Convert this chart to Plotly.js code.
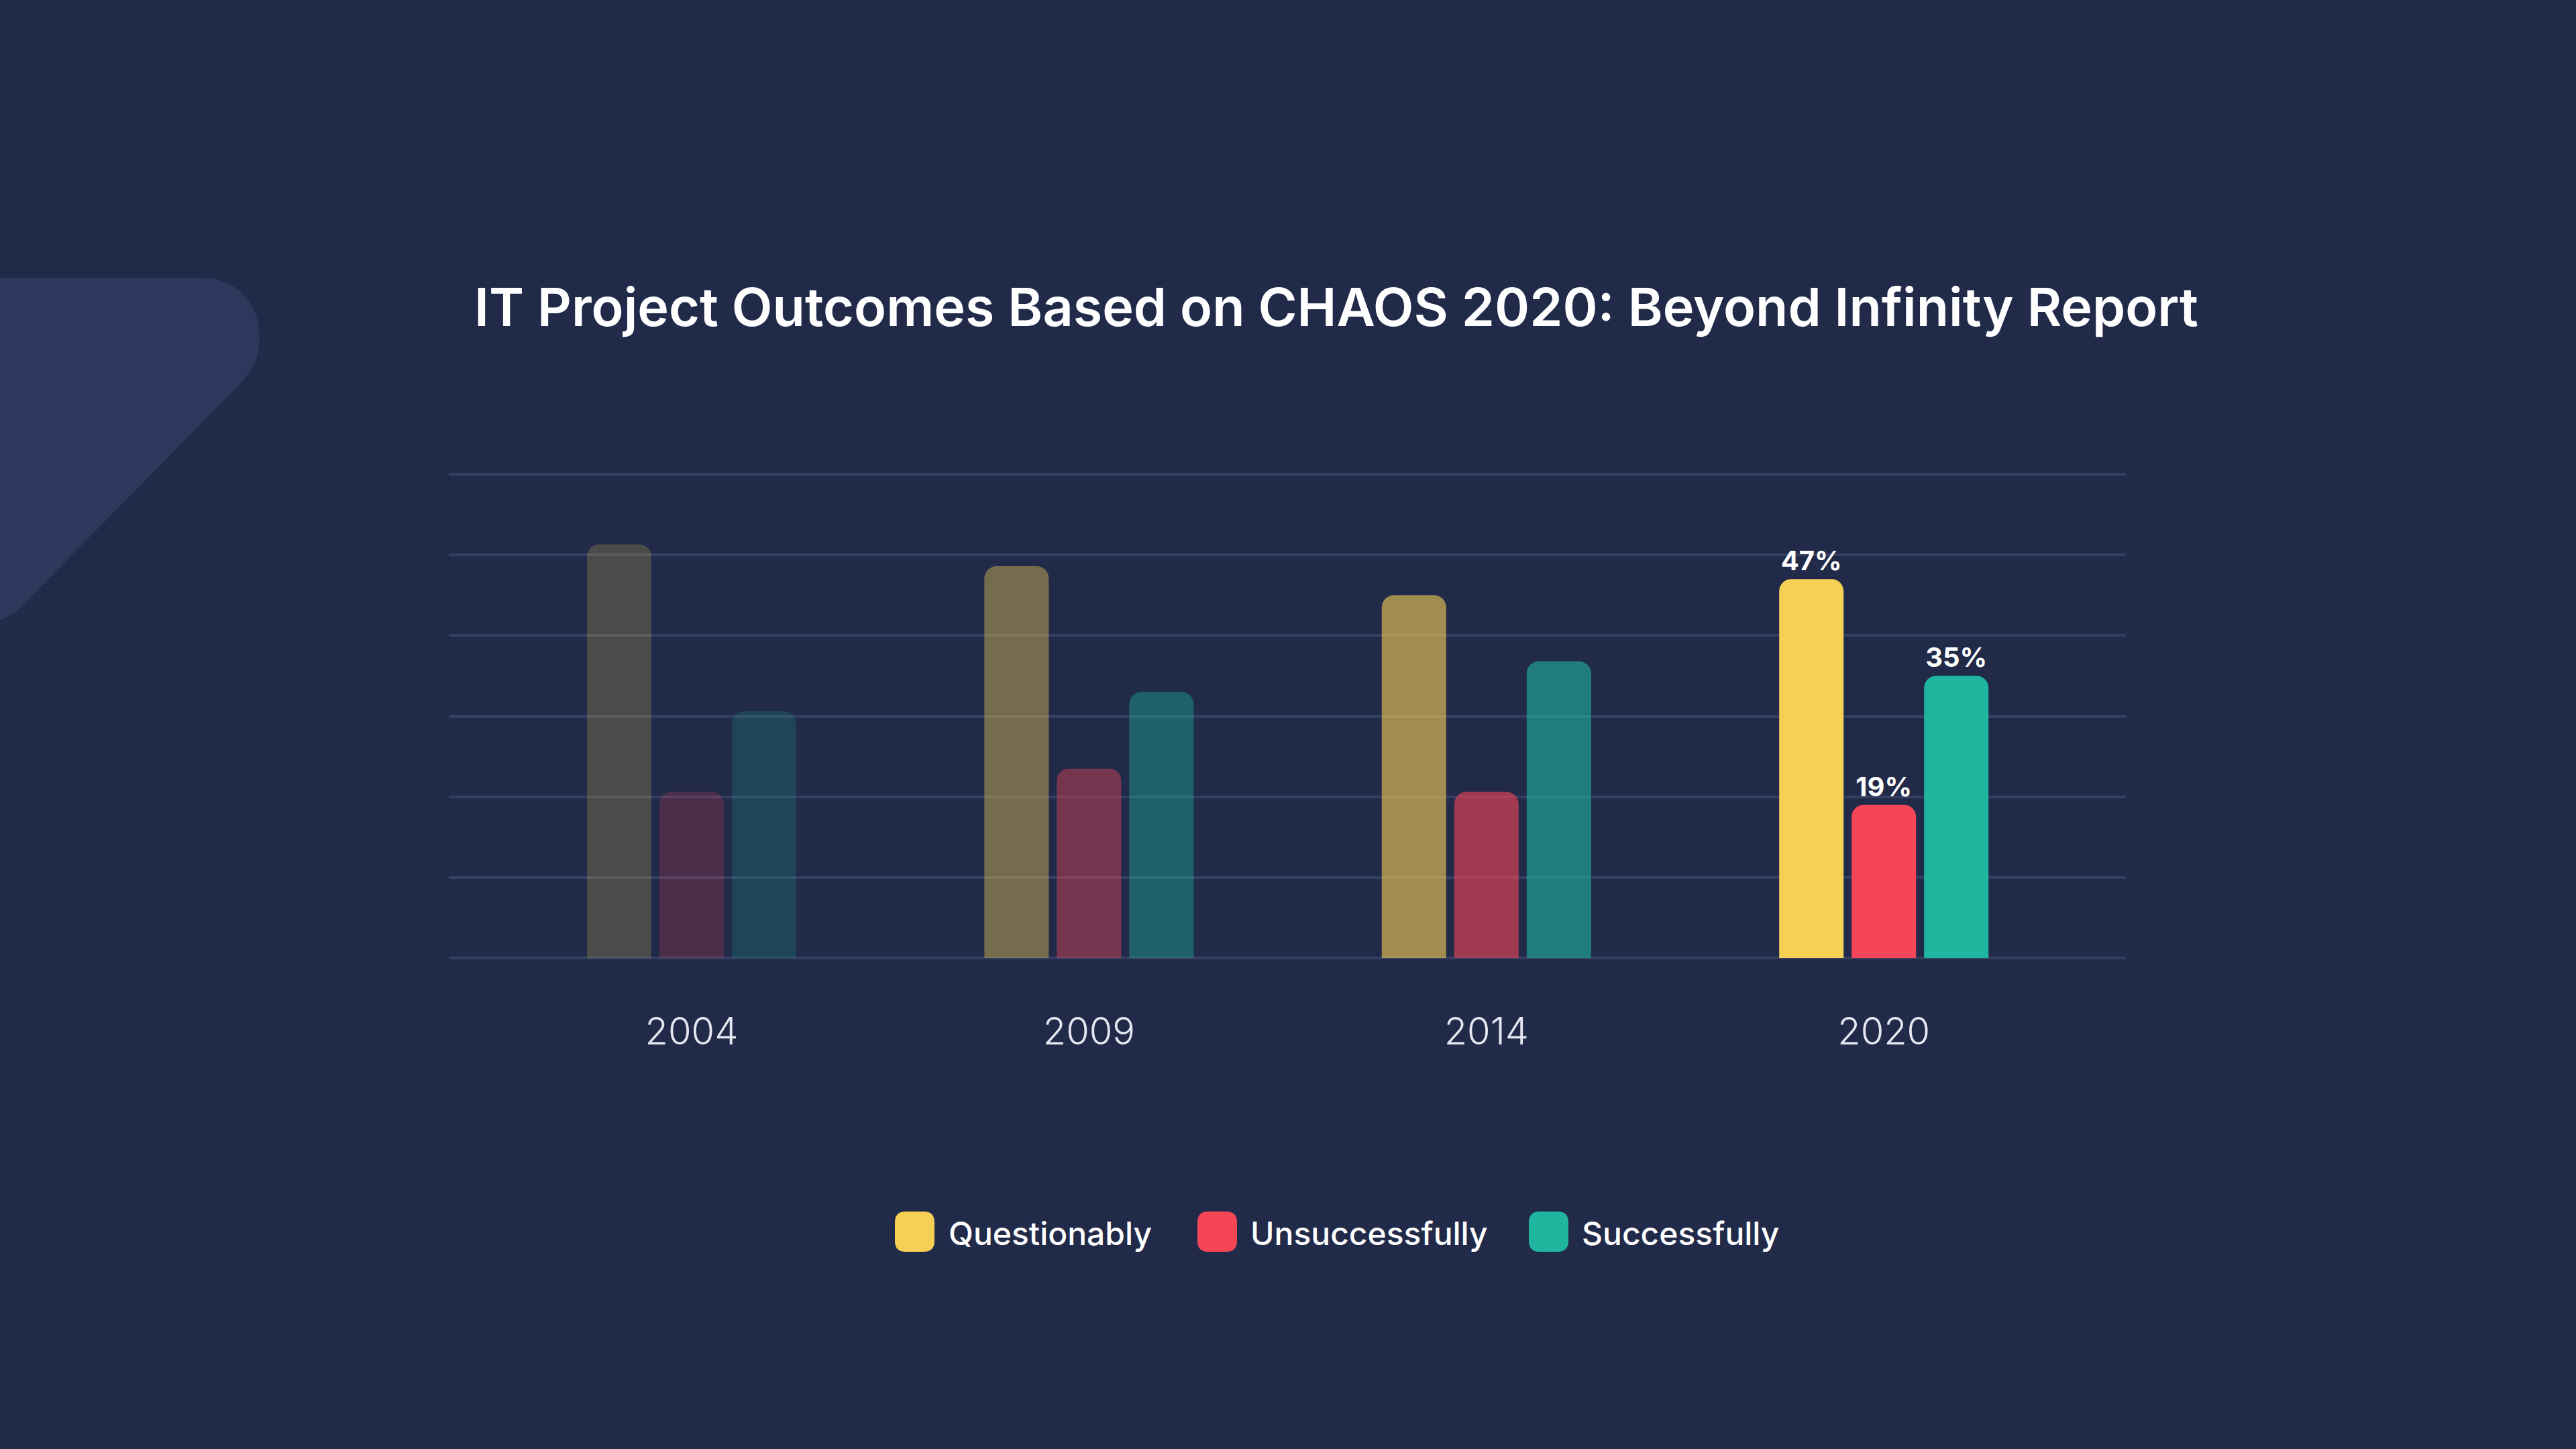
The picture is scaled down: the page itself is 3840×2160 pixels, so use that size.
<!DOCTYPE html>
<html>
<head>
<meta charset="utf-8">
<script src="https://cdn.plot.ly/plotly-3.0.1.min.js"></script>
<style>
  html, body { margin: 0; padding: 0; background: #212A48; }
  #chart { width: 3840px; height: 2160px; }
</style>
</head>
<body>
<div id="chart"></div>
<script>
// ---- Data ----
const years = ['2004', '2009', '2014', '2020'];
const seriesNames = ['Questionably', 'Unsuccessfully', 'Successfully'];
const questionably = [51.3, 48.6, 45.0, 47];
const unsuccessfully = [20.6, 23.5, 20.6, 19];
const successfully = [30.6, 33.0, 36.8, 35];
const labelledYear = '2020';

// ---- Style ----
const seriesColors = ['#F6D055', '#F54657', '#1FB59E'];
const yearOpacity = [0.2, 0.4, 0.6, 1.0];
const BG = '#212A48';
const GRID = '#353F62';

// plot area in pixels
const W = 3840, H = 2160;
const L = 669, R = 3169, T = 705, B = 1428;
const px = x => (x - L) / (R - L);
const py = y => (B - y) / (B - T);

const seriesValues = [questionably, unsuccessfully, successfully];
const traces = seriesNames.map((name, s) => ({
  type: 'bar',
  name: name,
  x: years,
  y: seriesValues[s],
  text: seriesValues[s].map((v, i) => years[i] === labelledYear ? Math.round(v) + '%' : ''),
  textposition: 'outside',
  constraintext: 'none',
  cliponaxis: false,
  textfont: { family: 'Inter', size: 40, weight: 700, color: '#FFFFFF' },
  marker: { color: seriesColors[s], opacity: yearOpacity, line: { width: 0 } },
  hoverinfo: 'skip',
  showlegend: false
}));

// decorative rounded shape on the left (pixel path -> paper coords)
function pathFromPx(cmds) {
  return cmds.map(c => {
    if (typeof c === 'string') return c;
    return px(c[0]).toFixed(5) + ',' + py(c[1]).toFixed(5);
  }).join(' ');
}
const decoPath = pathFromPx([
  'M', [-40, 414], 'L', [300, 414],
  'C', [352, 414], [387, 452], [387, 502],
  'C', [387, 532], [376, 553], [360, 570],
  'L', [34, 902],
  'C', [20, 917], [6, 927], [-40, 932], 'Z'
]);

const shapes = [{
  type: 'path', xref: 'paper', yref: 'paper', layer: 'below',
  path: decoPath, fillcolor: '#2C385C', line: { width: 0 }
}];

// custom legend (swatch + label)
const legendItems = [
  { sx: 1334, tx: 1412 },
  { sx: 1785, tx: 1862 },
  { sx: 2279, tx: 2356 }
];
const annotations = [];
function roundRect(x0, y0, w, h, r) {
  return pathFromPx([
    'M', [x0 + r, y0], 'L', [x0 + w - r, y0],
    'Q', [x0 + w, y0], [x0 + w, y0 + r],
    'L', [x0 + w, y0 + h - r],
    'Q', [x0 + w, y0 + h], [x0 + w - r, y0 + h],
    'L', [x0 + r, y0 + h],
    'Q', [x0, y0 + h], [x0, y0 + h - r],
    'L', [x0, y0 + r],
    'Q', [x0, y0], [x0 + r, y0], 'Z'
  ]);
}
seriesNames.forEach((name, s) => {
  const it = legendItems[s];
  shapes.push({
    type: 'path', xref: 'paper', yref: 'paper',
    path: roundRect(it.sx, 1806, 59, 60, 16),
    fillcolor: seriesColors[s], line: { width: 0 }
  });
  annotations.push({
    xref: 'paper', yref: 'paper',
    x: px(it.tx), y: py(1838),
    xanchor: 'left', yanchor: 'middle',
    text: name, showarrow: false,
    font: { family: 'Inter', size: 48, weight: 500, color: '#FFFFFF' }
  });
});

const layout = {
  width: W, height: H,
  paper_bgcolor: BG, plot_bgcolor: BG,
  margin: { l: L, r: W - R, t: T, b: H - B, pad: 0 },
  title: {
    text: 'IT Project Outcomes Based on CHAOS 2020: Beyond Infinity Report',
    font: { family: 'Inter', size: 79, weight: 600, color: '#FFFFFF' },
    x: 1992 / W, xanchor: 'center', xref: 'container',
    y: 1 - 458 / H, yanchor: 'middle', yref: 'container'
  },
  barmode: 'group',
  bargap: 0.453,
  bargroupgap: 0.111,
  barcornerradius: 18,
  xaxis: {
    type: 'category',
    range: [-0.611, 3.609],
    showgrid: false, zeroline: false, showline: false,
    ticks: '',
    ticklabelstandoff: 72,
    tickfont: { family: 'Inter', size: 56, weight: 300, color: '#E4E7EF' },
    fixedrange: true
  },
  yaxis: {
    range: [0, 60.17],
    tickvals: [0, 10, 20, 30, 40, 50, 60],
    showgrid: true, gridcolor: GRID, gridwidth: 4,
    zeroline: true, zerolinecolor: GRID, zerolinewidth: 4,
    showticklabels: false, ticks: '', showline: false,
    fixedrange: true
  },
  shapes: shapes,
  annotations: annotations,
  showlegend: false,
  hovermode: false
};

Plotly.newPlot('chart', traces, layout, { displayModeBar: false, staticPlot: true });
</script>
</body>
</html>
